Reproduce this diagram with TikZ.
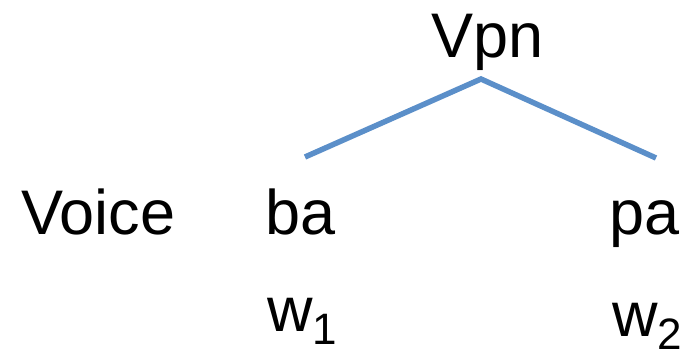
\documentclass[tikz,border=0pt]{standalone}
\usepackage{fontspec}
\setmainfont{Liberation Sans}
\definecolor{branch}{HTML}{5B8FC9}
\tikzset{
  lbl/.style={anchor=base west, inner sep=0pt, outer sep=0pt, font=\fontsize{63}{75}\selectfont},
  edge/.style={draw=branch, line width=5.5pt, line cap=butt, line join=miter}
}
\newcommand{\subdig}[1]{\raisebox{-13pt}{\fontsize{44}{52}\selectfont #1}}
\begin{document}
\begin{tikzpicture}[x=1pt,y=-1pt]
\useasboundingbox (0,0) rectangle (688,360);
\node[lbl] (vpn) at (431,57) {Vpn};
\node[lbl] (voice) at (21,234) {Voice};
\node[lbl] (ba) at (265,234) {ba};
\node[lbl] (pa) at (609,234) {pa};
\node[lbl] (w1) at (267,331) {w\subdig{1}};
\node[lbl] (w2) at (612,336) {w\subdig{2}};
\coordinate (apex) at (481,79);
\coordinate (lend) at (305,157);
\coordinate (rend) at (656,158);
\draw[edge] (lend) -- (apex) -- (rend);
\end{tikzpicture}
\end{document}
